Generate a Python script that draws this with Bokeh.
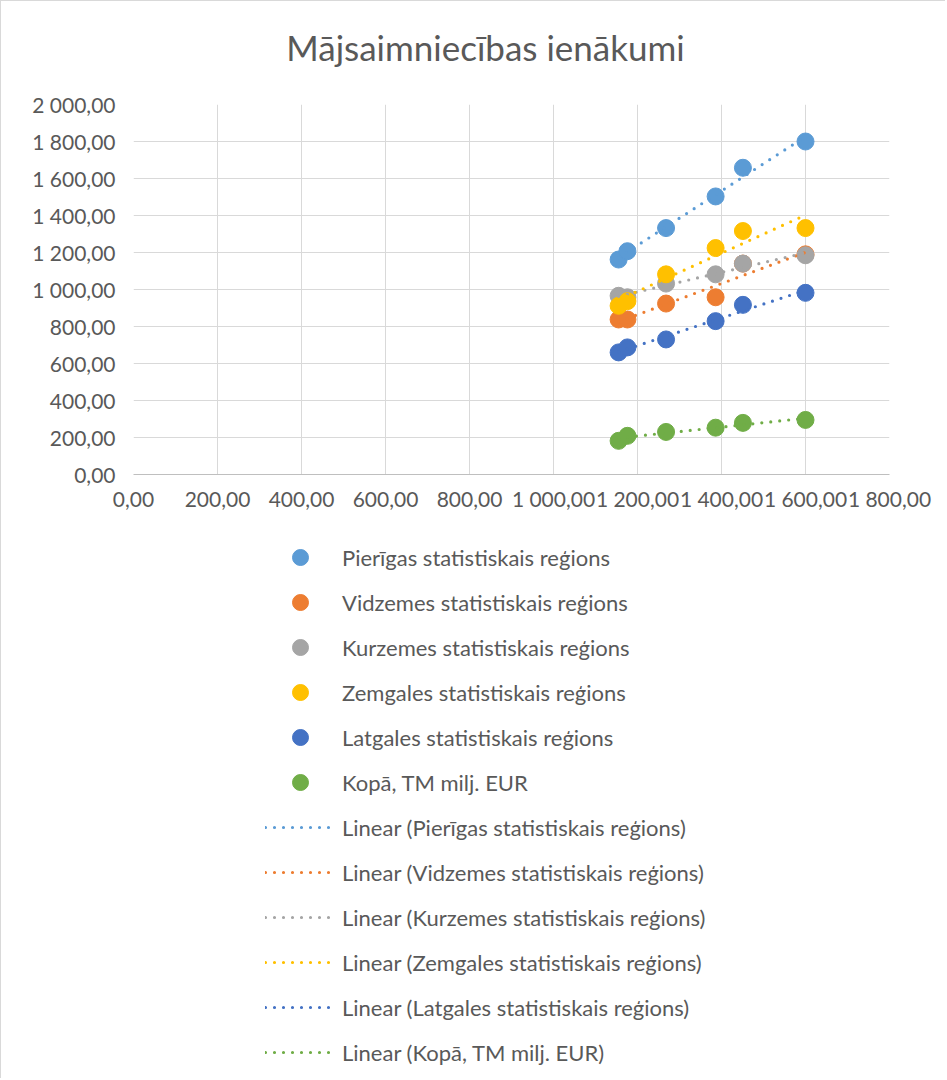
import numpy as np
from bokeh.plotting import figure
from bokeh.layouts import column
from bokeh.models import (Legend, LegendItem, Label, FixedTicker, CustomJSTickFormatter,
                          Range1d, ColumnDataSource)
from bokeh.embed import file_html
from bokeh.resources import INLINE

# ---- data ----
x_vals = [1155, 1176, 1268, 1386, 1451, 1600]
series_names = [
    "Pierīgas statistiskais reģions",
    "Vidzemes statistiskais reģions",
    "Kurzemes statistiskais reģions",
    "Zemgales statistiskais reģions",
    "Latgales statistiskais reģions",
    "Kopā, TM milj. EUR",
]
pieriga = [1162, 1207, 1332, 1503, 1658, 1800]
vidzeme = [838, 838, 924, 958, 1140, 1190]
kurzeme = [966, 958, 1032, 1082, 1140, 1185]
zemgale = [912, 937, 1082, 1224, 1316, 1332]
latgale = [660, 687, 730, 829, 917, 982]
kopa = [182, 209, 230, 253, 279, 295]
series_values = [pieriga, vidzeme, kurzeme, zemgale, latgale, kopa]
colors = ["#5B9BD5", "#ED7D31", "#A5A5A5", "#FFC000", "#4472C4", "#70AD47"]
x_ticks = [0, 200, 400, 600, 800, 1000, 1200, 1400, 1600, 1800]
y_ticks = [0, 200, 400, 600, 800, 1000, 1200, 1400, 1600, 1800, 2000]
title_text = "Mājsaimniecības ienākumi"

TEXT = "#595959"
FONT = "Lato"
DOT = dict(line_width=3.2, line_dash="0 9", line_cap="round")


def blank_panel(height):
    f = figure(width=944, height=height, output_backend="svg", toolbar_location=None,
               x_range=Range1d(0, 1), y_range=Range1d(0, 1),
               x_axis_location=None, y_axis_location=None, min_border=0)
    f.outline_line_color = None
    f.xgrid.visible = False
    f.ygrid.visible = False
    f.background_fill_color = "white"
    f.border_fill_color = "white"
    return f


# ---------------- title panel ----------------
TITLE_H = 83
t = blank_panel(TITLE_H)
t.add_layout(Label(x=352, y=TITLE_H - 45, x_units="screen", y_units="screen",
                   text=title_text, text_font=FONT, text_font_size="35px",
                   text_color=TEXT, text_align="center", text_baseline="alphabetic"))

# ---------------- chart ----------------
p = figure(frame_width=756, frame_height=370, output_backend="svg", toolbar_location=None,
           title=None, x_range=Range1d(0, 1800), y_range=Range1d(0, 2000),
           min_border_left=132, min_border_right=56, min_border_top=20, min_border_bottom=64)
p.outline_line_color = None
p.background_fill_color = "white"
p.border_fill_color = "white"

fmt = CustomJSTickFormatter(code=r"""
const s = tick.toFixed(2);
const parts = s.split('.');
const i = parts[0].replace(/\B(?=(\d{3})+(?!\d))/g, ' ');
return i + ',' + parts[1];
""")

for ax, ticks in ((p.xaxis[0], x_ticks), (p.yaxis[0], y_ticks)):
    ax.ticker = FixedTicker(ticks=ticks)
    ax.formatter = fmt
    ax.major_tick_line_color = None
    ax.minor_tick_line_color = None
    ax.major_tick_out = 0
    ax.major_tick_in = 0
    ax.minor_tick_out = 0
    ax.major_label_text_font = FONT
    ax.major_label_text_font_size = "21px"
    ax.major_label_text_color = TEXT
p.xaxis[0].axis_line_color = "#BFBFBF"
p.yaxis[0].axis_line_color = None
p.xaxis[0].major_label_standoff = 11
p.yaxis[0].major_label_standoff = 18

p.xgrid[0].ticker = FixedTicker(ticks=x_ticks)
p.ygrid[0].ticker = FixedTicker(ticks=y_ticks)
p.xgrid[0].grid_line_color = "#D9D9D9"
p.ygrid[0].grid_line_color = "#D9D9D9"

for vals, c in zip(series_values, colors):
    src = ColumnDataSource(dict(x=x_vals, y=vals))
    p.scatter("x", "y", source=src, size=17, fill_color=c, line_color=c)

for vals, c in zip(series_values, colors):
    k, b = np.polyfit(np.array(x_vals, float), np.array(vals, float), 1)
    xs = [min(x_vals), max(x_vals)]
    ys = [k * xs[0] + b, k * xs[1] + b]
    p.line(xs, ys, line_color=c, **DOT)

# ---------------- legend panel ----------------
LEG_H = 540
q = blank_panel(LEG_H)

# legend-only renderers: their single point lies outside the visible range
off = [-10]
scatter_items = []
line_items = []
for name, c in zip(series_names, colors):
    r = q.scatter(x=off, y=off, size=17, fill_color=c, line_color=c)
    scatter_items.append(LegendItem(label=name, renderers=[r]))
for name, c in zip(series_names, colors):
    lr = q.line(x=[-10, -9], y=[-10, -9], line_color=c, **DOT)
    line_items.append(LegendItem(label="Linear (" + name + ")", renderers=[lr]))

n_items = len(scatter_items) + len(line_items)
legend_h = n_items * 40 + (n_items - 1) * 5
legend = Legend(items=scatter_items + line_items, location=(132, LEG_H - legend_h + 1),
                orientation="vertical", glyph_width=70, glyph_height=40, spacing=5,
                padding=0, margin=0, label_standoff=7, label_height=24,
                label_text_font=FONT, label_text_font_size="22px", label_text_color=TEXT,
                label_text_baseline="middle",
                background_fill_alpha=0, border_line_color=None)
q.add_layout(legend, "center")

layout = column(t, p, q, spacing=0,
                styles={"border-top": "1px solid #D9D9D9", "border-left": "1px solid #D9D9D9"})

open("out.html", "w").write(file_html(layout, INLINE))
